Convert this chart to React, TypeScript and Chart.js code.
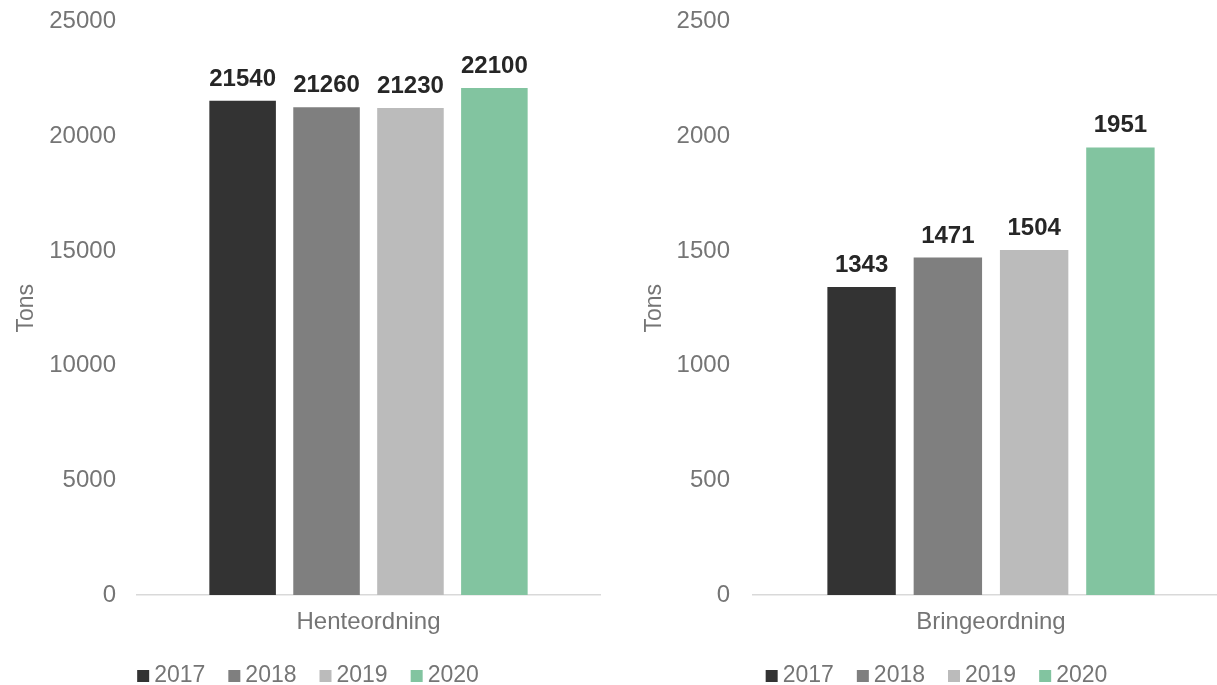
import React, { useEffect, useRef } from "react";
import { Chart, registerables } from "chart.js";

Chart.register(...registerables);

const years = ["2017", "2018", "2019", "2020"];
const colors = ["#333333", "#7f7f7f", "#bbbbbb", "#82c4a0"];

const henteCategory = ["Henteordning"];
const henteValues = [21540, 21260, 21230, 22100];
const henteMax = 25000;
const henteStep = 5000;

const bringeCategory = ["Bringeordning"];
const bringeValues = [1343, 1471, 1504, 1951];
const bringeMax = 2500;
const bringeStep = 500;

const yTitle = "Tons";

const FONT = '"Liberation Sans", Arial, Helvetica, sans-serif';
const TEXT = "#757575";

type Cfg = {
  categories: string[];
  values: number[];
  max: number;
  step: number;
  yWidth: number;
  tickPad: number;
  titlePad: number;
  padRight: number;
};

const dataLabelPlugin = {
  id: "dataLabels",
  afterDatasetsDraw(chart: any) {
    const ctx = chart.ctx;
    ctx.save();
    ctx.font = `bold 24px ${FONT}`;
    ctx.fillStyle = "#262626";
    ctx.textAlign = "center";
    ctx.textBaseline = "alphabetic";
    chart.data.datasets.forEach((ds: any, i: number) => {
      const meta = chart.getDatasetMeta(i);
      meta.data.forEach((bar: any, j: number) => {
        ctx.fillText(String(ds.data[j]), bar.x, bar.y - 15);
      });
    });
    ctx.restore();
  },
};

const legendPlugin = {
  id: "customLegend",
  afterDraw(chart: any) {
    const ctx = chart.ctx;
    ctx.save();
    ctx.font = `23px ${FONT}`;
    const box = 12;
    const gap = 5;
    const spacing = 23;
    const items = chart.data.datasets.map((ds: any) => ({
      label: ds.label,
      color: ds.backgroundColor,
      w: ctx.measureText(ds.label).width,
    }));
    const total =
      items.reduce((s: number, it: any) => s + box + gap + it.w, 0) +
      spacing * (items.length - 1);
    let x = chart.width / 2 - total / 2;
    const cy = 676;
    ctx.textBaseline = "middle";
    ctx.textAlign = "left";
    items.forEach((it: any) => {
      ctx.fillStyle = it.color;
      ctx.fillRect(x, cy - box / 2, box, box);
      ctx.fillStyle = TEXT;
      ctx.fillText(it.label, x + box + gap, cy);
      x += box + gap + it.w + spacing;
    });
    ctx.restore();
  },
};

function BarChart({ cfg, width }: { cfg: Cfg; width: number }) {
  const ref = useRef<HTMLCanvasElement>(null);
  useEffect(() => {
    if (!ref.current) return;
    const chart = new Chart(ref.current, {
      type: "bar",
      data: {
        labels: cfg.categories,
        datasets: years.map((y, i) => ({
          label: y,
          data: [cfg.values[i]],
          backgroundColor: colors[i],
          borderWidth: 0,
          categoryPercentage: 0.725,
          barPercentage: 0.793,
        })),
      },
      options: {
        responsive: false,
        animation: false,
        devicePixelRatio: 1,
        layout: { padding: { top: 21.5, right: cfg.padRight, bottom: 0, left: 0 } },
        plugins: {
          legend: { display: false },
          tooltip: { enabled: false },
          title: { display: false },
        },
        scales: {
          x: {
            grid: { display: false, drawTicks: false },
            border: { display: true, color: "#d9d9d9", width: 1.5 },
            ticks: {
              font: { family: FONT, size: 24 },
              color: TEXT,
              padding: 13,
            },
            afterFit: (scale: any) => {
              scale.height = 90;
              scale.paddingLeft = 0;
              scale.paddingRight = 0;
            },
          },
          y: {
            min: 0,
            max: cfg.max,
            grid: { display: false, drawTicks: false },
            border: { display: false },
            ticks: {
              stepSize: cfg.step,
              font: { family: FONT, size: 24 },
              color: TEXT,
              padding: cfg.tickPad,
              callback: (v: any) => String(v),
            },
            title: {
              display: true,
              text: yTitle,
              font: { family: FONT, size: 23 },
              color: TEXT,
              padding: { top: cfg.titlePad, bottom: 0 },
            },
            afterFit: (scale: any) => {
              scale.width = cfg.yWidth;
              scale.paddingTop = 0;
              scale.paddingBottom = 0;
            },
          },
        },
      },
      plugins: [dataLabelPlugin, legendPlugin],
    } as any);
    return () => chart.destroy();
  }, [cfg]);
  return <canvas ref={ref} width={width} height={685} style={{ display: "block" }} />;
}

const leftCfg: Cfg = {
  categories: henteCategory,
  values: henteValues,
  max: henteMax,
  step: henteStep,
  yWidth: 137,
  tickPad: 21,
  titlePad: 13,
  padRight: 16,
};

const rightCfg: Cfg = {
  categories: bringeCategory,
  values: bringeValues,
  max: bringeMax,
  step: bringeStep,
  yWidth: 145,
  tickPad: 23,
  titlePad: 33,
  padRight: 36,
};

export default function App() {
  return (
    <div
      style={{
        position: "absolute",
        left: 0,
        top: 0,
        width: 1217,
        height: 685,
        overflow: "hidden",
        background: "#ffffff",
      }}
    >
      <div style={{ position: "absolute", left: 0, top: 0 }}>
        <BarChart cfg={leftCfg} width={616} />
      </div>
      <div style={{ position: "absolute", left: 608, top: 0 }}>
        <BarChart cfg={rightCfg} width={657} />
      </div>
    </div>
  );
}
